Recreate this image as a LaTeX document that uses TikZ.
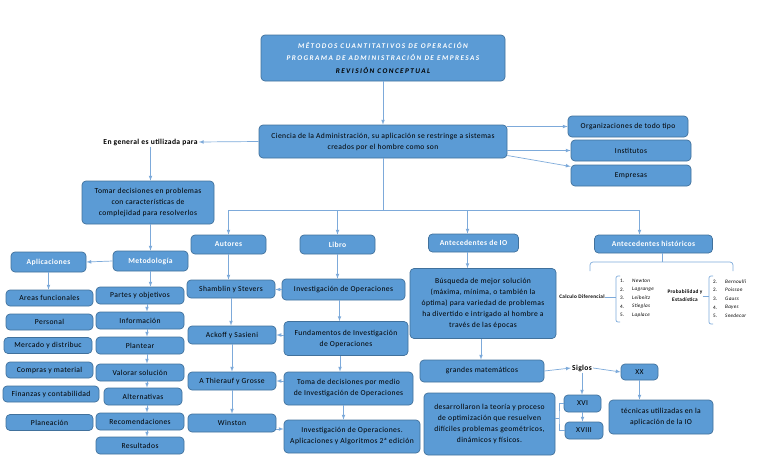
\documentclass[tikz,border=0pt]{standalone}
\usepackage{fontspec}
\setmainfont{Carlito}[LetterSpace=5]
\newfontfamily\titlefont[LetterSpace=20]{Carlito}
\usetikzlibrary{calc,arrows}
\tikzset{>=latex}
\definecolor{myblue}{RGB}{91,155,213}
\definecolor{myedge}{RGB}{65,113,156}
\definecolor{mylink}{RGB}{125,170,218}
\tikzset{
  cbox/.style={draw=myedge, fill=myblue, line width=0.7pt, rounded corners=4pt,
    align=center, inner sep=0pt, font=\fontsize{7.6}{11}\selectfont},
  hbox/.style={cbox, text=white, font=\fontsize{7.6}{11}\selectfont\bfseries},
  lbl/.style={inner sep=1pt, font=\fontsize{7.6}{9}\selectfont\bfseries},
  small/.style={inner sep=0pt, align=center, font=\fontsize{5.3}{8}\selectfont\bfseries},
  num/.style={inner sep=0pt, anchor=west, font=\fontsize{5.2}{6}\selectfont},
  itm/.style={inner sep=0pt, anchor=west, font=\fontsize{5.2}{6}\selectfont\itshape},
  link/.style={mylink, line width=0.7pt},
  arr/.style={link, ->}
}

\begin{document}
\begin{tikzpicture}[x=1pt, y=-1pt]
\useasboundingbox (0,0) rectangle (768,466);
% title and definition
\node[cbox, minimum width=244pt, minimum height=46pt, font=\titlefont\bfseries\itshape\fontsize{7.2}{12.5}\selectfont] (title) at (383,58)
  {\textcolor{white}{MÉTODOS CUANTITATIVOS DE OPERACIÓN}\\ \textcolor{white}{PROGRAMA DE ADMINISTRACIÓN DE EMPRESAS}\\ REVISIÓN CONCEPTUAL};
\node[cbox, minimum width=248pt, minimum height=33pt] (ciencia) at (383,141.5)
  {Ciencia de la Administración, su aplicación se restringe a sistemas\\ creados por el hombre como son};
\node[lbl] (general) at (150.5,142) {En general es utilizada para};
\node[cbox, minimum width=120pt, minimum height=21pt] (org) at (628,126.5) {Organizaciones de todo tipo};
\node[cbox, minimum width=120pt, minimum height=21pt] (inst) at (631,150.5) {Institutos};
\node[cbox, minimum width=120pt, minimum height=21pt] (emp) at (631,175.5) {Empresas};
\node[cbox, minimum width=132pt, minimum height=43pt] (tomar) at (148,202.5)
  {Tomar decisiones en problemas\\ con características de\\ complejidad para resolverlos};

% metodologia y aplicaciones
\node[hbox, minimum width=75pt, minimum height=20pt] (metod) at (150.5,261) {Metodología};
\node[hbox, minimum width=75pt, minimum height=20pt] (aplic) at (48.5,262) {Aplicaciones};
\node[cbox, minimum width=87pt, minimum height=16pt] (areas) at (49.5,298) {Areas funcionales};
\node[cbox, minimum width=87pt, minimum height=16pt] (personal) at (49.5,322) {Personal};
\node[cbox, minimum width=88pt, minimum height=16pt] (mercado) at (48,345.5) {Mercado y distribuc};
\node[cbox, minimum width=87pt, minimum height=16pt] (compras) at (49.5,370) {Compras y material};
\node[cbox, minimum width=96pt, minimum height=16pt] (finanzas) at (51,394) {Finanzas y contabilidad};
\node[cbox, minimum width=87pt, minimum height=16pt] (planeacion) at (49.5,422.5) {Planeación};
\node[cbox, minimum width=88pt, minimum height=17pt] (partes) at (140,295.5) {Partes y objetivos};
\node[cbox, minimum width=88pt, minimum height=17pt] (info) at (140,320.5) {Información};
\node[cbox, minimum width=88pt, minimum height=17pt] (plantear) at (140,345.5) {Plantear};
\node[cbox, minimum width=88pt, minimum height=17pt] (valorar) at (140,372.5) {Valorar solución};
\node[cbox, minimum width=78pt, minimum height=17pt] (altern) at (143,396.5) {Alternativas};
\node[cbox, minimum width=88pt, minimum height=17pt] (recom) at (140,421.5) {Recomendaciones};
\node[cbox, minimum width=88pt, minimum height=17pt] (result) at (140,445.5) {Resultados};

% autores y libros
\node[hbox, minimum width=75pt, minimum height=19pt] (autores) at (228.5,244.5) {Autores};
\node[hbox, minimum width=75pt, minimum height=19pt] (libro) at (337.5,244.5) {Libro};
\node[cbox, minimum width=88pt, minimum height=18pt] (shamblin) at (231,289) {Shamblin y Stevers};
\node[cbox, minimum width=88pt, minimum height=18pt] (ackoff) at (232,335) {Ackoff y Sasieni};
\node[cbox, minimum width=88pt, minimum height=18pt] (thierauf) at (232,381) {A Thierauf y Grosse};
\node[cbox, minimum width=88pt, minimum height=18pt] (winston) at (232,423) {Winston};
\node[cbox, minimum width=123pt, minimum height=21pt] (inv1) at (343.5,289.5) {Investigación de Operaciones};
\node[cbox, minimum width=124pt, minimum height=34pt] (fund) at (346,338.5) {Fundamentos de Investigación\\ de Operaciones};
\node[cbox, minimum width=129pt, minimum height=33pt] (toma) at (348.5,388.5) {Toma de decisiones por medio\\ de Investigación de Operaciones};
\node[cbox, minimum width=136pt, minimum height=33pt] (inv2) at (352,436.5) {Investigación de Operaciones.\\ Aplicaciones y Algoritmos 2ª edición};

% antecedentes
\node[hbox, minimum width=90pt, minimum height=18pt] (antio) at (473.5,243) {Antecedentes de IO};
\node[hbox, minimum width=118pt, minimum height=18pt] (anth) at (653.5,244) {Antecedentes históricos};
\node[cbox, minimum width=146pt, minimum height=70pt] (busq) at (483,303.5)
  {Búsqueda de mejor solución\\ (máxima, mínima, o también la\\ óptima) para variedad de problemas\\ ha divertido e intrigado al hombre a\\ través de las épocas};
\node[cbox, minimum width=124pt, minimum height=22pt] (grandes) at (482,371) {grandes matemáticos};
\node[lbl] (siglos) at (582,368) {Siglos};
\node[cbox, minimum width=37pt, minimum height=16pt] (xx) at (639.5,372) {XX};
\node[cbox, minimum width=104pt, minimum height=34pt] (tecnicas) at (661,417) {técnicas utilizadas en la\\ aplicación de la IO};
\node[cbox, minimum width=37pt, minimum height=17pt] (xvi) at (582.5,403.5) {XVI};
\node[cbox, minimum width=38pt, minimum height=17pt] (xviii) at (584,430.5) {XVIII};
\node[cbox, minimum width=131pt, minimum height=62pt] (desarr) at (489.5,424)
  {desarrollaron la teoría y proceso\\ de optimización que resuelven\\ difíciles problemas geométricos,\\ dinámicos y físicos.};

% listas de matematicos
\node[small] (calc) at (582,297) {Calculo Diferencial};
\node[num] (c1) at (620,281) {1.};
\node[itm] (newton) at (632,281) {Newton};
\node[num] (c2) at (620,289.5) {2.};
\node[itm] (lagrange) at (632,289.5) {Lagrange};
\node[num] (c3) at (620,298) {3.};
\node[itm] (leibnitz) at (632,298) {Leibnitz};
\node[num] (c4) at (620,306.5) {4.};
\node[itm] (stieglas) at (632,306.5) {Stieglas};
\node[num] (c5) at (620,315) {5.};
\node[itm] (laplace) at (632,315) {Laplace};
\node[small] (prob) at (685,296) {Probabilidad y\\ Estadística};
\node[num] (p1) at (713,281.5) {2.};
\node[itm] (bernoulli) at (725,281.5) {Bernoulli};
\node[num] (p2) at (713,290) {2.};
\node[itm] (poisson) at (725,290) {Poisson};
\node[num] (p3) at (713,299) {3.};
\node[itm] (gauss) at (725,299) {Gauss};
\node[num] (p4) at (713,307.5) {4.};
\node[itm] (bayes) at (725,307.5) {Bayes};
\node[num] (p5) at (713,316) {5.};
\node[itm] (snedecor) at (725,316) {Snedecor};

% connectors
\draw[arr] (title) -- (ciencia);
\draw[arr] (ciencia.west) -- (general.east);
\draw[arr] (ciencia.east |- org) -- (org.west);
\draw[arr] (ciencia.east |- inst) -- (inst.west);
\draw[arr] ([yshift=-14pt]ciencia.east) -- ([yshift=9pt]emp.west);
\draw[arr] (general.south) -- (general.south |- tomar.north);
\draw[arr] (metod.north |- tomar.south) -- (metod.north);
\draw[arr] (metod.west) -- (aplic.east);
\draw[arr] (aplic.south) -- (aplic.south |- areas.north);
\draw[arr] (metod.south) -- (metod.south |- partes.north);
\draw[arr] ([xshift=7pt]partes.south) -- ([xshift=7pt]partes.south |- info.north);
\draw[arr] ([xshift=7pt]info.south) -- ([xshift=7pt]info.south |- plantear.north);
\draw[arr] ([xshift=7pt]plantear.south) -- ([xshift=7pt]plantear.south |- valorar.north);
\draw[arr] ([xshift=7pt]valorar.south) -- ([xshift=7pt]valorar.south |- altern.north);
\draw[arr] ([xshift=4pt]altern.south) -- ([xshift=4pt]altern.south |- recom.north);
\draw[arr] ([xshift=7pt]recom.south) -- ([xshift=7pt]recom.south |- result.north);

\coordinate (split) at (383,210);
\draw[link] (ciencia.south) -- (split);
\draw[arr] (split) -| (autores.north);
\draw[arr] (split) -| (libro.north);
\draw[arr] (split) -| ([xshift=-6pt]antio.north);
\draw[arr] (split) -| ([xshift=-14pt]anth.north);

\draw[arr] (autores.south) -- (autores.south |- shamblin.north);
\draw[arr] (shamblin.south) -- (shamblin.south |- ackoff.north);
\draw[arr] (ackoff.south) -- (ackoff.south |- thierauf.north);
\draw[arr] (thierauf.south) -- (thierauf.south |- winston.north);
\draw[arr] (libro.south) -- (libro.south |- inv1.north);
\draw[arr] ([xshift=-4pt]inv1.south) -- ([xshift=-4pt]inv1.south |- fund.north);
\draw[arr] ([xshift=-6pt]fund.south) -- ([xshift=-6pt]fund.south |- toma.north);
\draw[arr] ([xshift=-5pt]toma.south) -- ([xshift=-5pt]toma.south |- inv2.north);
\draw[arr] (inv1.west) -- (inv1.west -| shamblin.east);
\draw[arr] (fund.west |- ackoff) -- (ackoff.east);
\draw[arr] (toma.west |- thierauf) -- (thierauf.east);
\draw[arr] ([yshift=-6pt]winston.east) -- ([yshift=-6pt]winston.east -| inv2.west);

\draw[arr] ([xshift=-6pt]antio.south) -- ([xshift=-6pt]antio.south |- busq.north);
\draw[arr] ([xshift=-2pt]busq.south) -- ([xshift=-2pt]busq.south |- grandes.north);
\draw[arr] (grandes.east) -- (siglos.west);
\draw[arr] (siglos.east) -- (xx.west);
\draw[arr] (siglos.south) -- (siglos.south |- xvi.north);
\draw[arr] (xx.south) -- (xx.south |- tecnicas.north);
\draw[arr] (xvi.south) -- (xvi.south |- xviii.north);
\coordinate (brk) at (559,418);
\draw[link] (desarr.east |- brk) -- (brk);
\draw[link] (xvi.west) -| (brk) |- (xviii.west);

% llaves
\coordinate (hb) at (662,262);
\draw[link] ([xshift=8.5pt]anth.south) -- (hb);
\draw[link, rounded corners=3pt] (590,271) |- (hb) -| (733,271);
\coordinate (br1) at (616,297);
\draw[link] (calc.east) -- (br1);
\draw[link, rounded corners=2pt] (620,276) -- (616,276) -- (616,322) -- (620,322);
\coordinate (br2) at (709,296);
\draw[link] (prob.east) -- (br2);
\draw[link, rounded corners=2pt] (713,276) -- (709,276) -- (709,324) -- (713,324);
\end{tikzpicture}
\end{document}
